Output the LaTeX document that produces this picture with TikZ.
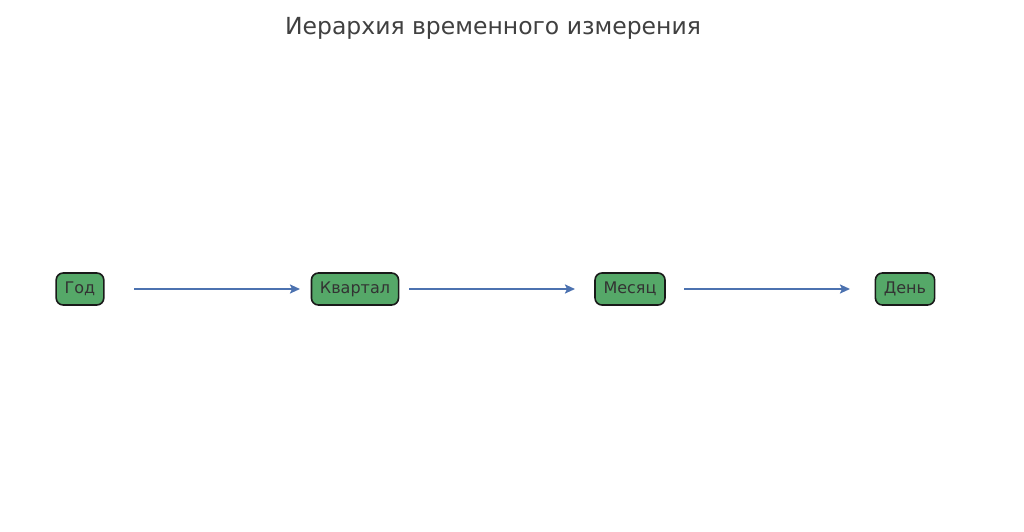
\documentclass[tikz,border=0pt]{standalone}
\usepackage{fontspec}
\setmainfont{DejaVu Sans}
\usetikzlibrary{arrows.meta}
\definecolor{boxgreen}{HTML}{55A868}
\definecolor{arrowblue}{HTML}{4C72B0}
\definecolor{txtgray}{HTML}{333333}
\definecolor{titlegray}{HTML}{404040}
\tikzset{
  levelbox/.style={draw=black!90, line width=1.6pt, fill=boxgreen, rounded corners=7pt,
    minimum height=32pt, inner xsep=8.5pt, text=txtgray, font=\fontsize{16}{19}\selectfont},
  flow/.style={draw=arrowblue, line width=2.8pt, -{Stealth[length=10pt,width=9pt,inset=2pt]},
    shorten <=54pt, shorten >=55pt}
}
\begin{document}
\begin{tikzpicture}[x=1pt,y=1pt]
\useasboundingbox (0,0) rectangle (1024,531);
\node[text=titlegray, font=\fontsize{23.5}{28}\selectfont] (title) at (493,503) {Иерархия временного измерения};
\node[levelbox] (y) at (80,242) {Год};
\node[levelbox] (q) at (355,242) {Квартал};
\node[levelbox] (m) at (630,242) {Месяц};
\node[levelbox] (d) at (905,242) {День};
\draw[flow] (y.center) -- (q.center);
\draw[flow] (q.center) -- (m.center);
\draw[flow] (m.center) -- (d.center);
\end{tikzpicture}
\end{document}
